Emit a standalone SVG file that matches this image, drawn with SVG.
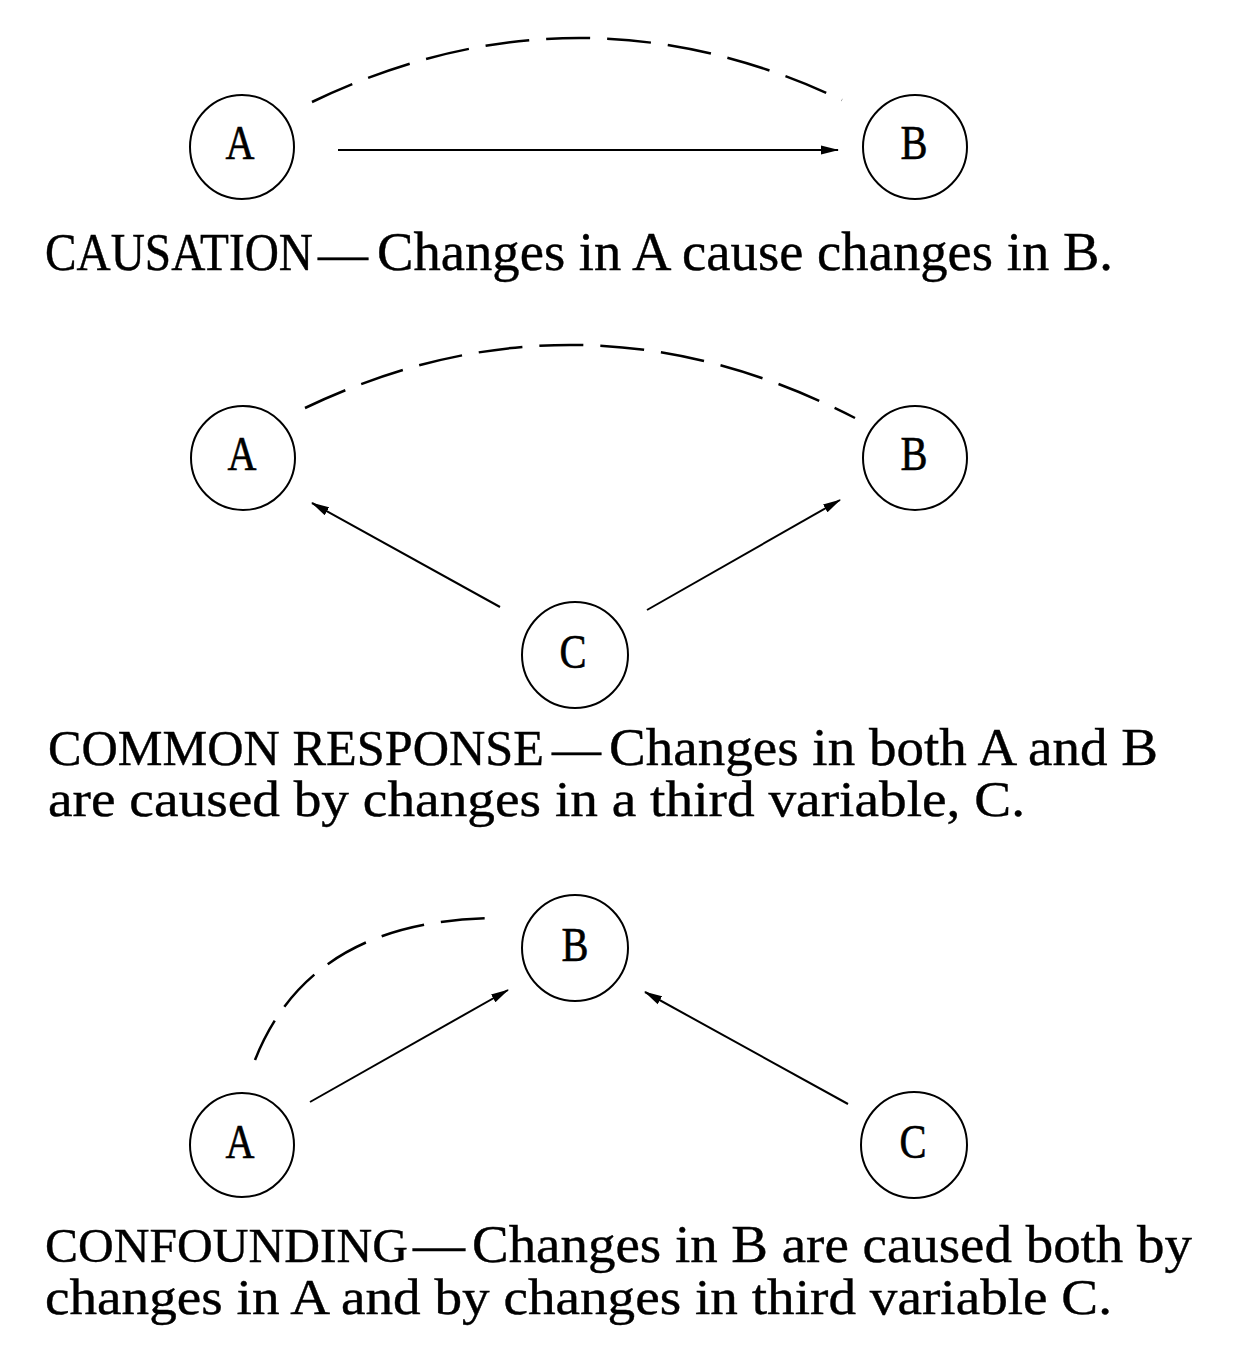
<svg xmlns="http://www.w3.org/2000/svg" width="1241" height="1360" viewBox="0 0 1241 1360">
<style>
.node{fill:#fff;stroke:#000;stroke-width:2}
.lbl{font-family:"Liberation Serif","Times New Roman",serif;font-size:48px;fill:#000;stroke:#000;stroke-width:0.6;text-anchor:middle}
.cap{font-family:"Liberation Serif","Times New Roman",serif;font-size:51px;fill:#000;stroke:#000;stroke-width:0.4}
.low{font-size:52px}
.arr{fill:none;stroke:#000;stroke-width:2;marker-end:url(#ah)}
.dash{fill:none;stroke:#000;stroke-width:2.5;stroke-dasharray:44 17}
</style>
<defs>
<marker id="ah" viewBox="0 0 18 11" refX="17" refY="5.5" markerWidth="18" markerHeight="11" markerUnits="userSpaceOnUse" orient="auto">
<path d="M0,1 L18,5.5 L0,10 Z" fill="#000"/>
</marker>
</defs>
<rect width="1241" height="1360" fill="#fff"/>
<g id="connectors">
<path class="dash" d="M312,102 Q577,-25 842,100"/>
<line class="arr" x1="338" y1="150" x2="838" y2="150"/>
<path class="dash" d="M305,408 Q580,277 855,418"/>
<line class="arr" x1="500" y1="607" x2="312" y2="503"/>
<line class="arr" x1="647" y1="610" x2="840" y2="500"/>
<path class="dash" d="M255,1060 Q311,918 500,918"/>
<line class="arr" x1="310" y1="1102" x2="508" y2="990"/>
<line class="arr" x1="848" y1="1104" x2="645" y2="992"/>
</g>
<g id="s1-A"><circle class="node" cx="242" cy="147" r="52"/><text class="lbl" x="240" y="159" textLength="29" lengthAdjust="spacingAndGlyphs">A</text></g>
<g id="s1-B"><circle class="node" cx="915" cy="147" r="52"/><text class="lbl" x="914" y="159" textLength="27" lengthAdjust="spacingAndGlyphs">B</text></g>
<g id="s2-A"><circle class="node" cx="243" cy="458" r="52"/><text class="lbl" x="242" y="470" textLength="29" lengthAdjust="spacingAndGlyphs">A</text></g>
<g id="s2-B"><circle class="node" cx="915" cy="458" r="52"/><text class="lbl" x="914" y="470" textLength="27" lengthAdjust="spacingAndGlyphs">B</text></g>
<g id="s2-C"><circle class="node" cx="575" cy="655" r="53"/><text class="lbl" x="573" y="668" textLength="27" lengthAdjust="spacingAndGlyphs">C</text></g>
<g id="s3-B"><circle class="node" cx="575" cy="948" r="53"/><text class="lbl" x="575" y="961" textLength="27" lengthAdjust="spacingAndGlyphs">B</text></g>
<g id="s3-A"><circle class="node" cx="242" cy="1145" r="52"/><text class="lbl" x="240" y="1158" textLength="29" lengthAdjust="spacingAndGlyphs">A</text></g>
<g id="s3-C"><circle class="node" cx="914" cy="1145" r="53"/><text class="lbl" x="913" y="1158" textLength="27" lengthAdjust="spacingAndGlyphs">C</text></g>
<g id="caption-1">
<text class="cap" x="0" y="0" transform="translate(45 270) scale(1 1.14)" style="font-size:46px" textLength="268" lengthAdjust="spacingAndGlyphs">CAUSATION</text>
<text class="cap" x="318" y="270" style="font-size:48px" textLength="50" lengthAdjust="spacingAndGlyphs">—</text>
<text class="cap" x="377" y="270" style="font-size:54px" textLength="736" lengthAdjust="spacingAndGlyphs">Changes in A cause changes in B.</text>
</g>
<g id="caption-2">
<text class="cap" x="48" y="765" style="font-size:50px" textLength="496" lengthAdjust="spacingAndGlyphs">COMMON RESPONSE</text>
<text class="cap" x="552" y="765" style="font-size:48px" textLength="49" lengthAdjust="spacingAndGlyphs">—</text>
<text class="cap low" x="609" y="765" textLength="549" lengthAdjust="spacingAndGlyphs">Changes in both A and B</text>
<text class="cap" x="48" y="816" textLength="977" lengthAdjust="spacingAndGlyphs">are caused by changes in a third variable, C.</text>
</g>
<g id="caption-3">
<text class="cap" x="45" y="1262" style="font-size:49px" textLength="363" lengthAdjust="spacingAndGlyphs">CONFOUNDING</text>
<text class="cap" x="413" y="1262" style="font-size:50px" textLength="52" lengthAdjust="spacingAndGlyphs">—</text>
<text class="cap low" x="472" y="1262" textLength="720" lengthAdjust="spacingAndGlyphs">Changes in B are caused both by</text>
<text class="cap" x="45" y="1314" textLength="1067" lengthAdjust="spacingAndGlyphs">changes in A and by changes in third variable C.</text>
</g>
</svg>
